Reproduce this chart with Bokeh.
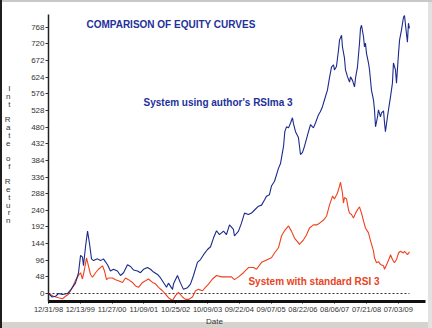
from bokeh.plotting import figure
from bokeh.models import Range1d, FixedTicker, Label, InlineStyleSheet, LinearAxis
from bokeh.embed import file_html
from bokeh.resources import INLINE

title_text = "COMPARISON OF EQUITY CURVES"
blue_name = "System using author's RSIma 3"
red_name = "System with standard RSI 3"
x_title = "Date"
y_title = "Int Rate of Return"

tick_bars = [0, 250, 500, 750, 1000, 1250, 1500, 1750, 2000, 2250, 2500, 2750]
tick_dates = ["12/31/98", "12/13/99", "11/27/00", "11/09/01", "10/25/02", "10/09/03",
              "09/22/04", "09/07/05", "08/22/06", "08/06/07", "07/21/08", "07/03/09"]
y_ticks = [0, 48, 96, 144, 192, 240, 288, 336, 384, 432, 480, 528, 576, 624, 672, 720, 768]

blue_bar = [0, 29, 55, 79, 110, 149, 173, 212, 236, 252, 267, 275, 291, 307, 322, 338, 354, 385,
            409, 432, 464, 487, 511, 542, 566, 590, 621, 645, 668, 700, 723, 747, 778, 802, 826,
            857, 881, 904, 928, 943, 975, 983, 1014, 1038, 1061, 1093, 1116, 1140, 1171, 1195,
            1219, 1250, 1274, 1297, 1321, 1344, 1376, 1399, 1423, 1454, 1462, 1494, 1517, 1541,
            1572, 1596, 1620, 1651, 1675, 1698, 1714, 1737, 1753, 1777, 1808, 1824, 1848, 1858,
            1871, 1887, 1903, 1918, 1926, 1942, 1965, 1981, 1997, 2013, 2044, 2060, 2083, 2099,
            2123, 2138, 2154, 2170, 2193, 2209, 2225, 2241, 2248, 2264, 2280, 2288, 2304, 2311,
            2327, 2335, 2351, 2367, 2374, 2390, 2406, 2414, 2429, 2445, 2453, 2461, 2477, 2484,
            2492, 2500, 2516, 2524, 2539, 2555, 2563, 2571, 2587, 2594, 2610, 2618, 2634, 2642,
            2649, 2665, 2673, 2689, 2704, 2712, 2728, 2736, 2752, 2760, 2775, 2791, 2799, 2807,
            2822, 2830, 2838]
blue_val = [0, -10, -8, 0, -3, 0, 10, 30, 60, 110, 105, 80, 135, 180, 145, 100, 95, 100,
            95, 100, 83, 65, 70, 65, 52, 60, 83, 78, 68, 65, 60, 70, 75, 70, 62,
            55, 45, 32, 18, 30, 12, 28, 52, 30, 12, 17, 27, 52, 90, 98,
            112, 127, 135, 160, 181, 170, 180, 170, 198, 185, 166, 180, 203, 232,
            228, 232, 241, 252, 255, 270, 281, 285, 310, 324, 361, 375, 425, 467,
            481, 478, 492, 507, 490, 467, 450, 401, 407, 425, 467, 487, 478, 492,
            516, 525, 539, 559, 587, 622, 653, 660, 645, 655, 702, 731, 745, 712,
            679, 645, 625, 610, 625, 615, 596, 622, 653, 722, 765, 774, 740, 712,
            722, 693, 665, 645, 587, 559, 530, 481, 510, 530, 510, 521, 527, 492,
            467, 510, 530, 568, 607, 665, 645, 607, 693, 731, 760, 797, 802, 774,
            725, 780, 765]

red_bar = [0, 39, 79, 110, 134, 157, 189, 212, 236, 252, 267, 283, 299, 314, 330, 346, 370,
           393, 425, 440, 456, 472, 503, 527, 550, 582, 605, 629, 660, 684, 708, 739, 763,
           786, 818, 841, 865, 896, 920, 943, 975, 998, 1022, 1054, 1077, 1101, 1132, 1156,
           1179, 1211, 1234, 1258, 1289, 1321, 1360, 1399, 1439, 1462, 1494, 1533, 1572,
           1612, 1635, 1675, 1714, 1753, 1777, 1808, 1832, 1855, 1887, 1910, 1934, 1965,
           1973, 2005, 2028, 2052, 2083, 2107, 2131, 2162, 2186, 2209, 2233, 2248, 2272,
           2288, 2296, 2311, 2319, 2327, 2343, 2359, 2367, 2382, 2398, 2414, 2437, 2445,
           2461, 2477, 2492, 2516, 2532, 2555, 2563, 2579, 2594, 2610, 2634, 2642, 2665,
           2681, 2689, 2704, 2720, 2736, 2752, 2767, 2791, 2799, 2822, 2838]
red_val = [0, -8, -12, -15, -8, -2, 18, 38, 52, 60, 42, 70, 103, 80, 55, 47, 60,
           70, 80, 65, 40, 45, 45, 40, 37, 32, 45, 40, 32, 22, 18, 32, 37,
           42, 32, 28, 18, 8, -2, -12, -20, -6, 3, -10, -17, -17, -10, 8,
           12, 8, 18, 27, 42, 52, 48, 48, 48, 40, 48, 60, 75,
           75, 70, 90, 97, 103, 117, 132, 166, 181, 195, 180, 160, 146,
           142, 155, 169, 189, 198, 198, 203, 212, 223, 255, 281, 273, 290,
           310, 321, 290, 261, 277, 273, 241, 232, 228, 218, 232, 246, 250,
           232, 209, 189, 175, 152, 123, 103, 89, 92, 84, 80, 70, 89,
           103, 112, 98, 89, 98, 117, 122, 117, 122, 112, 120]

BLUE = "#1b2a8c"
RED = "#f0401c"
NAVY_TXT = "#23309a"
RED_TXT = "#e8441e"
FONT = "Liberation Sans"
AX_TXT = "#333333"

p = figure(width=432, height=328, output_backend="svg", toolbar_location=None,
           x_range=Range1d(0, 2964), y_range=Range1d(-23, 805),
           min_border_left=48, min_border_right=7, min_border_top=14, min_border_bottom=25)
p.title.visible = False
p.grid.visible = False
p.outline_line_color = None
p.background_fill_color = "white"
p.border_fill_color = "white"
p.border_fill_alpha = 0.0

p.stylesheets = [InlineStyleSheet(css=":host { background-color: #ffffff; box-shadow: inset 2px 0 0 #1e1e1e, inset 0 2px 0 #c8c8c8, inset -4px 0 0 #e2e2e2, inset 0 -6px 0 #d6d3ce; }")]

# y axis
p.yaxis.ticker = FixedTicker(ticks=y_ticks)
p.yaxis.major_label_text_font = FONT
p.yaxis.major_label_text_font_size = "8px"
p.yaxis.major_label_text_color = AX_TXT
p.yaxis.major_tick_out = 3
p.yaxis.major_tick_in = 0
p.yaxis.minor_tick_out = 0
p.yaxis.minor_tick_in = 0
p.yaxis.major_label_standoff = 1
p.yaxis.axis_line_width = 1.5
p.yaxis.axis_line_color = "#222222"
p.yaxis.major_tick_line_color = "#333333"

# x axis
p.xaxis.ticker = FixedTicker(ticks=tick_bars)
p.xaxis.major_label_overrides = {b: d for b, d in zip(tick_bars, tick_dates)}
p.xaxis.major_label_text_font = FONT
p.xaxis.major_label_text_font_size = "7.5px"
p.xaxis.major_label_text_color = AX_TXT
p.xaxis.major_tick_out = 2
p.xaxis.major_tick_in = 0
p.xaxis.minor_tick_out = 0
p.xaxis.minor_tick_in = 0
p.xaxis.major_label_standoff = 1
p.xaxis.axis_line_width = 3
p.xaxis.axis_line_color = "#111111"

# stacked y-axis title, drawn as labels of an extra left axis
letter_pos = []
letter_txt = {}
for i, ch in enumerate(y_title):
    if ch == " ":
        continue
    py = 89 + i * 7.8
    v = round((295 - py) / 0.349, 2)
    letter_pos.append(v)
    letter_txt[v] = ch
y_title_axis = LinearAxis(ticker=FixedTicker(ticks=letter_pos), major_label_overrides=letter_txt,
                          axis_line_color=None, major_tick_line_color=None, minor_tick_line_color=None,
                          major_tick_out=0, major_tick_in=0, minor_tick_out=0, minor_tick_in=0,
                          major_label_standoff=18, major_label_text_font=FONT,
                          major_label_text_font_size="8px", major_label_text_color=AX_TXT)
p.add_layout(y_title_axis, "left")

# x-axis title placed like the original (left of centre)
date_pos = [1305]
x_title_axis = LinearAxis(ticker=FixedTicker(ticks=date_pos), major_label_overrides={date_pos[0]: x_title},
                          axis_line_color=None, major_tick_line_color=None, minor_tick_line_color=None,
                          major_tick_out=0, major_tick_in=0, minor_tick_out=0, minor_tick_in=0,
                          major_label_standoff=0, major_label_text_font=FONT,
                          major_label_text_font_size="8px", major_label_text_color=AX_TXT)
p.add_layout(x_title_axis, "below")

# zero reference line
p.line([blue_bar[0], blue_bar[-1]], [0, 0], line_color="#333333", line_width=1, line_dash="2 2")

p.line(red_bar, red_val, line_color=RED, line_width=1.1)
p.line(blue_bar, blue_val, line_color=BLUE, line_width=1.1)

p.add_layout(Label(x=298, y=776, text=title_text, text_font=FONT, text_font_size="10px",
                   text_font_style="bold", text_color=NAVY_TXT, text_baseline="middle"))
p.add_layout(Label(x=747, y=550, text=blue_name, text_font=FONT, text_font_size="10px",
                   text_font_style="bold", text_color=NAVY_TXT, text_baseline="middle"))
p.add_layout(Label(x=1572, y=34, text=red_name, text_font=FONT, text_font_size="10px",
                   text_font_style="bold", text_color=RED_TXT, text_baseline="middle"))

open("out.html", "w").write(file_html(p, INLINE))
